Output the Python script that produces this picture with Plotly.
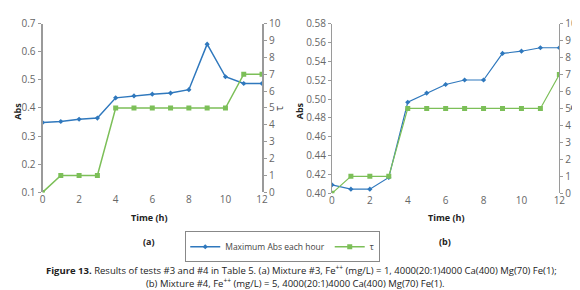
import plotly.graph_objects as go

hours = list(range(13))
abs_a = [0.348, 0.352, 0.360, 0.364, 0.436, 0.443, 0.449, 0.453, 0.465, 0.627, 0.511, 0.487, 0.487]
tau_a = [0, 1, 1, 1, 5, 5, 5, 5, 5, 5, 5, 7, 7]
abs_b = [0.409, 0.4044, 0.4044, 0.4168, 0.4966, 0.5063, 0.5154, 0.5202, 0.5202, 0.5484, 0.5507, 0.5544, 0.5544]
tau_b = [0, 1, 1, 1, 5, 5, 5, 5, 5, 5, 5, 5, 7]

BLUE = "#2f78bd"
GREEN = "#7cbf58"
GRAY = "#9a9a9a"
FONT = "Open Sans"
W, H = 580, 290

def px(x):
    return x / W

def py(y):
    return 1 - y / H

fig = go.Figure()

fig.add_trace(go.Scatter(x=hours, y=abs_a, xaxis="x", yaxis="y", mode="lines+markers",
                         line=dict(color=BLUE, width=1.5), marker=dict(symbol="diamond", size=4, color=BLUE),
                         name="Maximum Abs each hour", legendgroup="a", showlegend=True))
fig.add_trace(go.Scatter(x=hours, y=tau_a, xaxis="x", yaxis="y2", mode="lines+markers",
                         line=dict(color=GREEN, width=1.5), marker=dict(symbol="square", size=5, color=GREEN),
                         name="τ", legendgroup="b", showlegend=True))
fig.add_trace(go.Scatter(x=hours, y=abs_b, xaxis="x2", yaxis="y3", mode="lines+markers",
                         line=dict(color=BLUE, width=1.2), marker=dict(symbol="diamond", size=4, color=BLUE),
                         name="Maximum Abs each hour", legendgroup="a", showlegend=False))
fig.add_trace(go.Scatter(x=hours, y=tau_b, xaxis="x2", yaxis="y4", mode="lines+markers",
                         line=dict(color=GREEN, width=1.2), marker=dict(symbol="square", size=5, color=GREEN),
                         name="τ", legendgroup="b", showlegend=False))

tickfont = dict(family=FONT, size=10, color="#666666")

xa = dict(range=[0, 12], tickvals=[0, 2, 4, 6, 8, 10, 12], showgrid=False, zeroline=False,
          showline=False, ticks="", tickfont=tickfont, fixedrange=True)
fig.update_layout(
    width=W, height=H, margin=dict(l=0, r=0, t=0, b=0),
    paper_bgcolor="white", plot_bgcolor="white",
    xaxis=dict(xa, domain=[px(32), px(255)], anchor="y"),
    xaxis2=dict(xa, domain=[px(326), px(557)], anchor="y3"),
    yaxis=dict(domain=[py(186), py(8)], range=[0.1, 0.7], dtick=0.1, tickformat=".1f",
               showgrid=False, zeroline=False, showline=True, linecolor=GRAY, linewidth=2,
               ticks="outside", ticklen=3, tickcolor=GRAY, tickfont=tickfont, anchor="x"),
    yaxis2=dict(domain=[py(186), py(8)], range=[0, 10], dtick=1, overlaying="y", side="right",
                showgrid=False, zeroline=False, showline=True, linecolor=GRAY, linewidth=2,
                ticks="outside", ticklen=3, tickcolor=GRAY, tickfont=tickfont, anchor="x"),
    yaxis3=dict(domain=[py(187), py(8)], range=[0.40, 0.58], dtick=0.02, tickformat=".2f",
                showgrid=False, zeroline=False, showline=True, linecolor=GRAY, linewidth=1,
                ticks="outside", ticklen=3, tickcolor=GRAY, tickfont=tickfont, anchor="x2"),
    yaxis4=dict(domain=[py(187), py(8)], range=[0, 10], dtick=1, overlaying="y3", side="right",
                showgrid=False, zeroline=False, showline=True, linecolor=GRAY, linewidth=1,
                ticks="outside", ticklen=3, tickcolor=GRAY, tickfont=tickfont, anchor="x2"),
    legend=dict(orientation="h", x=px(177), y=py(227), xanchor="left", yanchor="top",
                bordercolor="#888888", borderwidth=1, bgcolor="white",
                font=dict(family=FONT, size=8.5, color="#444444"), itemwidth=30,
                tracegroupgap=0),
    showlegend=True,
)

def ann(text, x, y, size=10, bold=False, angle=0, color="#222222", xanchor="center"):
    fig.add_annotation(text=f"<b>{text}</b>" if bold else text, x=px(x), y=py(y), xref="paper", yref="paper",
                       showarrow=False, textangle=angle, xanchor=xanchor, yanchor="middle",
                       font=dict(family=FONT, size=size, color=color))

ann("Abs", 7, 100, size=9, bold=True, angle=-90)
ann("Abs", 293, 100, size=9, bold=True, angle=-90)
ann("τ", 272, 97, size=10, angle=-90, color="#444444")
ann("τ", 571, 97, size=10, angle=-90, color="#444444")
ann("Time (h)", 140, 213, size=9, bold=True)
ann("Time (h)", 442, 213, size=9, bold=True)
ann("(a)", 140, 238, size=9, bold=True)
ann("(b)", 441, 238, size=9, bold=True)
ann("<b>Figure 13.</b> Results of tests #3 and #4 in Table 5. (a) Mixture #3, Fe<sup>++</sup> (mg/L) = 1, 4000(20:1)4000 Ca(400) Mg(70) Fe(1);",
    295, 268, size=9.5, color="#222222")
ann("(b) Mixture #4, Fe<sup>++</sup> (mg/L) = 5, 4000(20:1)4000 Ca(400) Mg(70) Fe(1).",
    289, 282, size=9.5, color="#222222")

fig.write_html("out.html")
